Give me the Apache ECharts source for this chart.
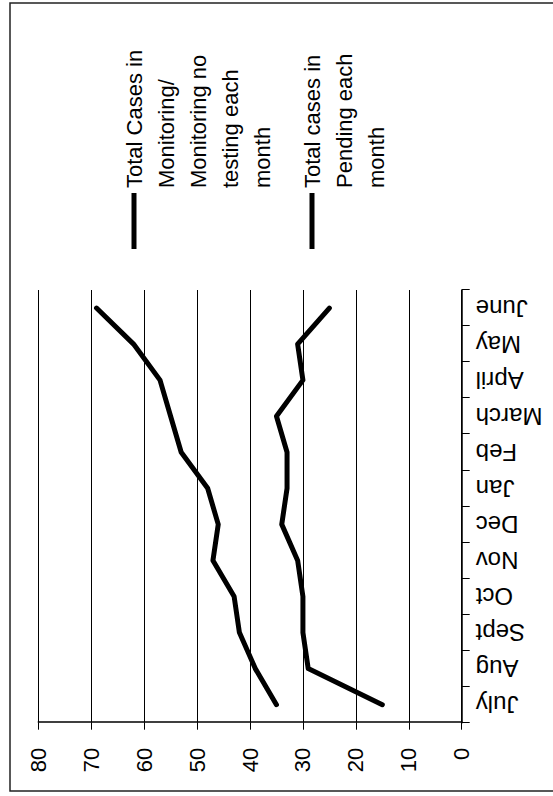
<!DOCTYPE html>
<html>
<head>
<meta charset="utf-8">
<script src="https://cdn.jsdelivr.net/npm/echarts@6/dist/echarts.min.js"></script>
<style>
  html, body { margin: 0; padding: 0; background: #fff; overflow: hidden; width: 553px; height: 796px; }
  #chart { position: absolute; left: 0; top: 0; width: 796px; height: 553px;
           transform-origin: 0 0; transform: translate(0px, 796px) rotate(-90deg); }
</style>
</head>
<body>
<div id="chart"></div>
<script>
const months = ["July","Aug","Sept","Oct","Nov","Dec","Jan","Feb","March","April","May","June"];
const monitoring = [35, 39, 42, 43, 47, 46, 48, 53, 55, 57, 62, 69];
const pending = [15, 29, 30, 30, 31, 34, 33, 33, 35, 30, 31, 25];
const seriesNames = ["Total Cases in Monitoring/Monitoring no testing each month", "Total cases in Pending each month"];
const legendLines1 = ["Total Cases in", "Monitoring/", "Monitoring no", "testing each", "month"];
const legendLines2 = ["Total cases in", "Pending each", "month"];
const valueMin = 0, valueMax = 80, valueStep = 10;

const FONT = '"Liberation Sans", Arial, sans-serif';
const chart = echarts.init(document.getElementById('chart'), null, { renderer: 'svg', width: 796, height: 553 });

function legendItem(lineY, lines) {
  return [
    { type: 'line', shape: { x1: 547, y1: lineY, x2: 603, y2: lineY },
      style: { stroke: '#000', lineWidth: 5 } },
    { type: 'text', x: 608, y: lineY - 16,
      style: { text: lines.join('\n'), font: '22px ' + FONT, fill: '#000',
               lineHeight: 32, verticalAlign: 'top', align: 'left' } }
  ];
}

chart.setOption({
  backgroundColor: '#fff',
  animation: false,
  grid: { left: 73.3, right: 290, top: 38.3, bottom: 91.3 },
  xAxis: {
    type: 'category', data: months, boundaryGap: true,
    axisLine: { show: true, lineStyle: { color: '#000', width: 1.5 } },
    axisTick: { show: true, length: 8, interval: 0, lineStyle: { color: '#000', width: 1 } },
    axisLabel: { interval: 0, rotate: 90, margin: 14, color: '#000', fontSize: 24, fontFamily: FONT }
  },
  yAxis: {
    type: 'value', min: valueMin, max: valueMax, interval: valueStep,
    axisLine: { show: true, lineStyle: { color: '#000', width: 1.5 } },
    axisTick: { show: true, length: 7, lineStyle: { color: '#000', width: 1 } },
    axisLabel: { margin: 25, color: '#000', fontSize: 22, fontFamily: FONT },
    splitLine: { show: true, lineStyle: { color: '#000', width: 1 } }
  },
  series: [
    { name: seriesNames[0], type: 'line', data: monitoring, showSymbol: false, symbol: 'none',
      lineStyle: { color: '#000', width: 5, cap: 'round', join: 'round' } },
    { name: seriesNames[1], type: 'line', data: pending, showSymbol: false, symbol: 'none',
      lineStyle: { color: '#000', width: 5, cap: 'round', join: 'round' } }
  ],
  graphic: [
    { type: 'rect', shape: { x: 5, y: 10, width: 788, height: 560 },
      style: { fill: 'none', stroke: '#222', lineWidth: 1.5 } },
    ...legendItem(134, legendLines1),
    ...legendItem(312, legendLines2)
  ]
});
</script>
</body>
</html>
